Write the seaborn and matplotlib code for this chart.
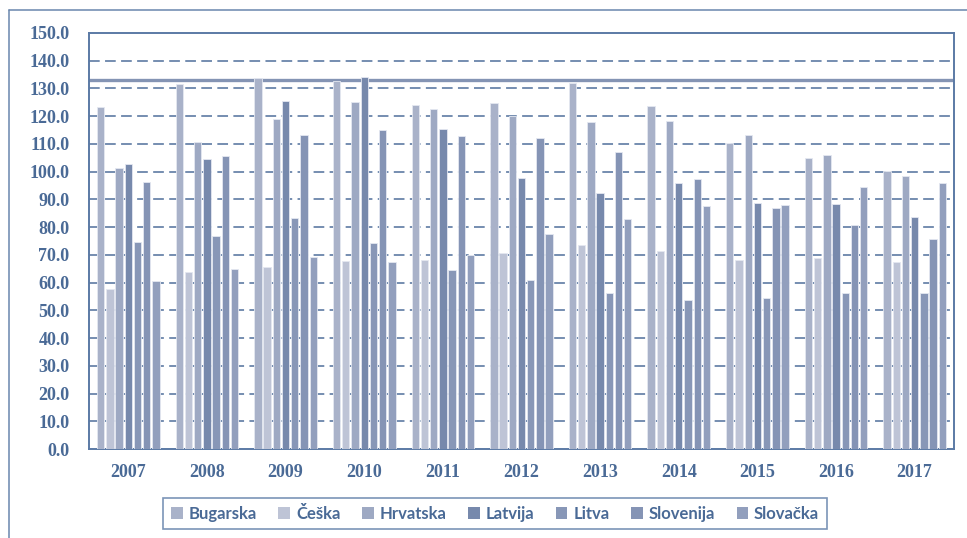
import numpy as np
import pandas as pd
import seaborn as sns
import matplotlib.pyplot as plt
from matplotlib.lines import Line2D
from matplotlib.patches import Patch

years = ["2007", "2008", "2009", "2010", "2011", "2012", "2013", "2014", "2015", "2016", "2017"]
countries = ["Bugarska", "Češka", "Hrvatska", "Latvija", "Litva", "Slovenija", "Slovačka"]

bugarska  = [123.4, 131.5, 133.7, 132.7, 124.2, 124.9, 131.8, 123.5, 110.5, 104.8, 100.2]
ceska     = [57.8, 63.8, 65.8, 67.9, 68.3, 70.6, 73.7, 71.4, 68.1, 68.7, 67.5]
hrvatska  = [101.3, 110.7, 119.1, 125.2, 122.6, 120.0, 117.8, 118.1, 113.1, 106.0, 98.4]
latvija   = [102.6, 104.4, 125.4, 134.0, 115.3, 97.8, 92.4, 96.0, 88.7, 88.3, 83.6]
litva     = [74.7, 76.7, 83.4, 74.3, 64.7, 61.1, 56.3, 53.8, 54.6, 56.1, 56.1]
slovenija = [96.1, 105.5, 113.4, 114.9, 113.0, 112.3, 107.1, 97.3, 87.0, 80.6, 75.6]
slovacka  = [60.5, 64.9, 69.2, 67.3, 70.0, 77.7, 82.8, 87.8, 87.9, 94.6, 96.0]

reference_level = 133.0
y_ticks = [0, 10, 20, 30, 40, 50, 60, 70, 80, 90, 100, 110, 120, 130, 140, 150]

palette = ["#A9B2C9", "#BEC4D6", "#9EA9C3", "#7789AC", "#8897B7", "#8594B5", "#929FBD"]
text_col = "#4A6A96"
frame_col = "#5B7AA5"

series = [bugarska, ceska, hrvatska, latvija, litva, slovenija, slovacka]
df = pd.DataFrame({
    "Godina": np.tile(years, len(countries)),
    "Zemlja": np.repeat(countries, len(years)),
    "Vrijednost": np.concatenate(series),
})

sns.set_style("white")
fig = plt.figure(figsize=(9.67, 5.38), dpi=100)
ax = fig.add_axes([89 / 967, 1 - 449 / 538, (954 - 89) / 967, (449 - 33) / 538])

sns.barplot(data=df, x="Godina", y="Vrijednost", hue="Zemlja", order=years,
            hue_order=countries, palette=palette, width=0.82, gap=0.2,
            edgecolor="#E4E8F1", linewidth=0.6, saturation=1, ax=ax,
            legend=False, zorder=3)

# dashed horizontal grid
for v in y_ticks[1:-1]:
    ax.axhline(v, color="#4F6F9B", lw=1.1, dashes=(7, 3.5), zorder=1)
# reference level line
ax.axhline(reference_level, color="#8494B4", lw=2.4, zorder=2)

ax.set_ylim(0, 150)
ax.set_xlim(-0.5, len(years) - 0.5)
ax.set_yticks(y_ticks)
ax.set_yticklabels([f"{v:.1f}" for v in y_ticks])
ax.set_xlabel("")
ax.set_ylabel("")
ax.tick_params(axis="y", length=0, pad=14)
ax.tick_params(axis="x", length=0, pad=11)
for lab in ax.get_xticklabels() + ax.get_yticklabels():
    lab.set_fontfamily("Liberation Serif")
    lab.set_fontweight("bold")
    lab.set_fontsize(13)
    lab.set_color(text_col)
for sp in ax.spines.values():
    sp.set_visible(True)
    sp.set_color(frame_col)
    sp.set_linewidth(1.4)

# outer chart border (left and top edges visible)
fig.add_artist(Line2D([8.5 / 967, 8.5 / 967], [0, 1 - 10 / 538], color="#6A86AD", lw=1.1,
                      transform=fig.transFigure))
fig.add_artist(Line2D([8.5 / 967, 1], [1 - 10 / 538, 1 - 10 / 538], color="#6A86AD", lw=1.1,
                      transform=fig.transFigure))

handles = [Patch(facecolor=c, edgecolor="none") for c in palette]
leg = fig.legend(handles, countries, loc="center", bbox_to_anchor=(0.512, 0.0455), ncol=7,
                 frameon=True, fancybox=False, handlelength=0.7, handleheight=0.7,
                 handletextpad=0.35, columnspacing=1.3, borderpad=0.45,
                 prop={"family": "Lato", "weight": "bold", "size": 12})
leg.get_frame().set_edgecolor(frame_col)
leg.get_frame().set_linewidth(1.2)
for t in leg.get_texts():
    t.set_color(text_col)

fig.savefig("out.png", dpi=100)
